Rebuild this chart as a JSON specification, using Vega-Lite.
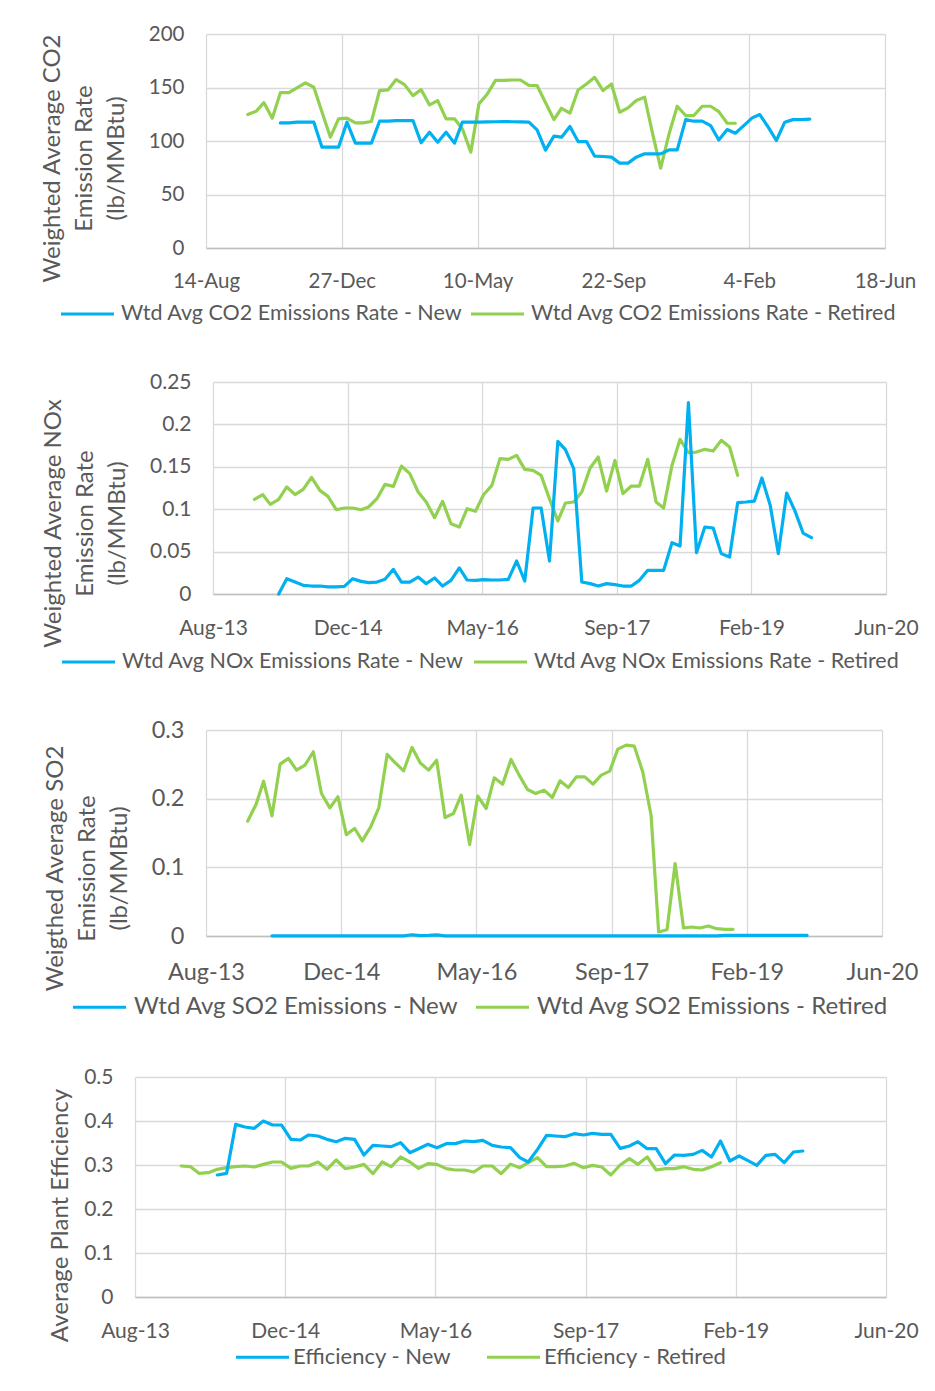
{
  "$schema": "https://vega.github.io/schema/vega-lite/v6.json",
  "background": "white",
  "padding": {"left": 8, "top": 24, "right": 0, "bottom": 0},
  "config": {
    "view": {"stroke": null},
    "font": "Lato",
    "axis": {"labelFont": "Lato", "titleFont": "Lato", "labelColor": "#595959", "titleColor": "#595959", "titleFontWeight": "normal", "titleFontSize": 24, "gridColor": "#d9d9d9", "gridWidth": 1.3, "domainColor": "#bfbfbf", "domainWidth": 1.3, "ticks": false, "tickSize": 0, "labelFlush": false, "labelOverlap": false, "grid": true},
    "legend": {"labelFont": "Lato", "labelColor": "#595959", "labelFontSize": 22, "symbolType": "stroke", "symbolSize": 2809, "symbolStrokeWidth": 3.2, "labelOffset": 5, "padding": 0, "labelLimit": 700, "symbolOffset": 0}
  },
  "datasets": {
    "co2": [
      {"d":"2014-01-15","Retired":124.7},{"d":"2014-02-15","Retired":127.8},{"d":"2014-03-15","Retired":135.9},{"d":"2014-04-15","Retired":121.3},
      {"d":"2014-05-15","New":116.9,"Retired":145.2},{"d":"2014-06-15","New":116.9,"Retired":145.2},{"d":"2014-07-15","New":117.6,"Retired":149.6},{"d":"2014-08-15","New":117.6,"Retired":154.3},
      {"d":"2014-09-15","New":117.6,"Retired":150.2},{"d":"2014-10-15","New":94.2,"Retired":127},{"d":"2014-11-15","New":94.2,"Retired":103.6},{"d":"2014-12-15","New":94.2,"Retired":120.7},
      {"d":"2015-01-15","New":117.6,"Retired":121.3},{"d":"2015-02-15","New":98,"Retired":116.9},{"d":"2015-03-15","New":98,"Retired":117},{"d":"2015-04-15","New":98,"Retired":118.2},
      {"d":"2015-05-15","New":118.5,"Retired":147.1},{"d":"2015-06-15","New":118.5,"Retired":147.7},{"d":"2015-07-15","New":119.1,"Retired":157.4},{"d":"2015-08-15","New":119.1,"Retired":152.7},
      {"d":"2015-09-15","New":119.1,"Retired":142.4},{"d":"2015-10-15","New":98.3,"Retired":148},{"d":"2015-11-15","New":108.2,"Retired":133.7},{"d":"2015-12-15","New":98.9,"Retired":137.8},
      {"d":"2016-01-15","New":108.2,"Retired":120.7},{"d":"2016-02-15","New":98,"Retired":120.7},{"d":"2016-03-15","New":117.6,"Retired":111.3},{"d":"2016-04-15","New":117.6,"Retired":89.6},
      {"d":"2016-05-15","New":117.6,"Retired":134.7},{"d":"2016-06-15","New":117.8,"Retired":144},{"d":"2016-07-15","New":118,"Retired":156.7},{"d":"2016-08-15","New":118.2,"Retired":156.7},
      {"d":"2016-09-15","New":118,"Retired":157},{"d":"2016-10-15","New":117.8,"Retired":157},{"d":"2016-11-15","New":117.6,"Retired":152},{"d":"2016-12-15","New":110.4,"Retired":151.8},
      {"d":"2017-01-15","New":91.5,"Retired":136},{"d":"2017-02-15","New":104.5,"Retired":120},{"d":"2017-03-15","New":103.6,"Retired":130.6},{"d":"2017-04-15","New":113.5,"Retired":126},
      {"d":"2017-05-15","New":99.5,"Retired":147.7},{"d":"2017-06-15","New":99.5,"Retired":153.3},{"d":"2017-07-15","New":85.8,"Retired":159.5},{"d":"2017-08-15","New":85.5,"Retired":147.1},
      {"d":"2017-09-15","New":84.9,"Retired":153.3},{"d":"2017-10-15","New":79.3,"Retired":126.9},{"d":"2017-11-15","New":79.3,"Retired":130.9},{"d":"2017-12-15","New":84.9,"Retired":137.8},
      {"d":"2018-01-15","New":88,"Retired":140.9},{"d":"2018-02-15","New":88,"Retired":105},{"d":"2018-03-15","New":88,"Retired":74.6},{"d":"2018-04-15","New":91.7,"Retired":106.7},
      {"d":"2018-05-15","New":91.7,"Retired":132.5},{"d":"2018-06-15","New":120,"Retired":123.8},{"d":"2018-07-15","New":118.5,"Retired":123.8},{"d":"2018-08-15","New":118.5,"Retired":132.5},
      {"d":"2018-09-15","New":114.4,"Retired":132.5},{"d":"2018-10-15","New":101,"Retired":127.5},{"d":"2018-11-15","New":110.7,"Retired":116.6},{"d":"2018-12-15","New":107.3,"Retired":116.6},
      {"d":"2019-01-15","New":114.4},{"d":"2019-02-15","New":121.6},{"d":"2019-03-15","New":124.7},{"d":"2019-04-15","New":112.9},{"d":"2019-05-15","New":100.5},
      {"d":"2019-06-15","New":117.6},{"d":"2019-07-15","New":120},{"d":"2019-08-15","New":120},{"d":"2019-09-15","New":120.4}
    ],
    "nox": [
      {"d":"2014-01-15","Retired":0.1116},{"d":"2014-02-15","Retired":0.1171},{"d":"2014-03-15","Retired":0.1057},{"d":"2014-04-15","New":0,"Retired":0.1116},
      {"d":"2014-05-15","New":0.0181,"Retired":0.1262},{"d":"2014-06-15","New":0.0141,"Retired":0.1171},{"d":"2014-07-15","New":0.0102,"Retired":0.1234},{"d":"2014-08-15","New":0.0094,"Retired":0.1376},
      {"d":"2014-09-15","New":0.0094,"Retired":0.1222},{"d":"2014-10-15","New":0.0083,"Retired":0.1151},{"d":"2014-11-15","New":0.0083,"Retired":0.0994},{"d":"2014-12-15","New":0.009,"Retired":0.1014},
      {"d":"2015-01-15","New":0.0181,"Retired":0.1014},{"d":"2015-02-15","New":0.0149,"Retired":0.0994},{"d":"2015-03-15","New":0.0134,"Retired":0.1026},{"d":"2015-04-15","New":0.0141,"Retired":0.1124},
      {"d":"2015-05-15","New":0.0173,"Retired":0.1293},{"d":"2015-06-15","New":0.0291,"Retired":0.1269},{"d":"2015-07-15","New":0.0141,"Retired":0.1509},{"d":"2015-08-15","New":0.0141,"Retired":0.1419},
      {"d":"2015-09-15","New":0.02,"Retired":0.1203},{"d":"2015-10-15","New":0.0122,"Retired":0.1085},{"d":"2015-11-15","New":0.0189,"Retired":0.09},{"d":"2015-12-15","New":0.0094,"Retired":0.1093},
      {"d":"2016-01-15","New":0.0161,"Retired":0.0829},{"d":"2016-02-15","New":0.0307,"Retired":0.079},{"d":"2016-03-15","New":0.0165,"Retired":0.1006},{"d":"2016-04-15","New":0.0161,"Retired":0.0975},
      {"d":"2016-05-15","New":0.0169,"Retired":0.1171},{"d":"2016-06-15","New":0.0165,"Retired":0.1281},{"d":"2016-07-15","New":0.0165,"Retired":0.1596},{"d":"2016-08-15","New":0.0173,"Retired":0.1588},
      {"d":"2016-09-15","New":0.0389,"Retired":0.1635},{"d":"2016-10-15","New":0.0153,"Retired":0.147},{"d":"2016-11-15","New":0.1014,"Retired":0.1458},{"d":"2016-12-15","New":0.1014,"Retired":0.1399},
      {"d":"2017-01-15","New":0.0389,"Retired":0.112},{"d":"2017-02-15","New":0.18,"Retired":0.0861},{"d":"2017-03-15","New":0.1702,"Retired":0.1073},{"d":"2017-04-15","New":0.1478,"Retired":0.1085},
      {"d":"2017-05-15","New":0.0141,"Retired":0.1203},{"d":"2017-06-15","New":0.0122,"Retired":0.1486},{"d":"2017-07-15","New":0.0094,"Retired":0.1615},{"d":"2017-08-15","New":0.0122,"Retired":0.1214},
      {"d":"2017-09-15","New":0.011,"Retired":0.1576},{"d":"2017-10-15","New":0.0094,"Retired":0.1183},{"d":"2017-11-15","New":0.0094,"Retired":0.1273},{"d":"2017-12-15","New":0.0161,"Retired":0.1273},
      {"d":"2018-01-15","New":0.0279,"Retired":0.1588},{"d":"2018-02-15","New":0.0279,"Retired":0.1085},{"d":"2018-03-15","New":0.0279,"Retired":0.1014},{"d":"2018-04-15","New":0.0605,"Retired":0.1517},
      {"d":"2018-05-15","New":0.0566,"Retired":0.1824},{"d":"2018-06-15","New":0.2256,"Retired":0.1666},{"d":"2018-07-15","New":0.0487,"Retired":0.1674},{"d":"2018-08-15","New":0.079,"Retired":0.1706},
      {"d":"2018-09-15","New":0.0778,"Retired":0.1686},{"d":"2018-10-15","New":0.0476,"Retired":0.1812},{"d":"2018-11-15","New":0.0436,"Retired":0.1733},{"d":"2018-12-15","New":0.1077,"Retired":0.1399},
      {"d":"2019-01-15","New":0.1085},{"d":"2019-02-15","New":0.1096},{"d":"2019-03-15","New":0.1368},{"d":"2019-04-15","New":0.1045},{"d":"2019-05-15","New":0.0476},
      {"d":"2019-06-15","New":0.1191},{"d":"2019-07-15","New":0.0986},{"d":"2019-08-15","New":0.0719},{"d":"2019-09-15","New":0.0664}
    ],
    "so2": [
      {"d":"2014-01-15","Retired":0.1672},{"d":"2014-02-15","Retired":0.1915},{"d":"2014-03-15","Retired":0.2255},{"d":"2014-04-15","New":0.0002,"Retired":0.175},
      {"d":"2014-05-15","New":0.0002,"Retired":0.2503},{"d":"2014-06-15","New":0.0002,"Retired":0.2586},{"d":"2014-07-15","New":0.0002,"Retired":0.2415},{"d":"2014-08-15","New":0.0002,"Retired":0.2488},
      {"d":"2014-09-15","New":0.0002,"Retired":0.2683},{"d":"2014-10-15","New":0.0002,"Retired":0.2075},{"d":"2014-11-15","New":0.0002,"Retired":0.1866},{"d":"2014-12-15","New":0.0002,"Retired":0.2027},
      {"d":"2015-01-15","New":0.0002,"Retired":0.1477},{"d":"2015-02-15","New":0.0002,"Retired":0.1565},{"d":"2015-03-15","New":0.0002,"Retired":0.1385},{"d":"2015-04-15","New":0.0002,"Retired":0.1589},
      {"d":"2015-05-15","New":0.0002,"Retired":0.1866},{"d":"2015-06-15","New":0.0002,"Retired":0.2644},{"d":"2015-07-15","New":0.0002,"Retired":0.2522},{"d":"2015-08-15","New":0.0002,"Retired":0.2406},
      {"d":"2015-09-15","New":0.0018,"Retired":0.2746},{"d":"2015-10-15","New":0.0005,"Retired":0.2522},{"d":"2015-11-15","New":0.0008,"Retired":0.2415},{"d":"2015-12-15","New":0.0016,"Retired":0.2561},
      {"d":"2016-01-15","New":0.0002,"Retired":0.1725},{"d":"2016-02-15","New":0.0002,"Retired":0.1784},{"d":"2016-03-15","New":0.0002,"Retired":0.2051},{"d":"2016-04-15","New":0.0002,"Retired":0.1332},
      {"d":"2016-05-15","New":0.0002,"Retired":0.2036},{"d":"2016-06-15","New":0.0002,"Retired":0.1857},{"d":"2016-07-15","New":0.0002,"Retired":0.2304},{"d":"2016-08-15","New":0.0002,"Retired":0.2211},
      {"d":"2016-09-15","New":0.0002,"Retired":0.2571},{"d":"2016-10-15","New":0.0002,"Retired":0.2343},{"d":"2016-11-15","New":0.0002,"Retired":0.2134},{"d":"2016-12-15","New":0.0002,"Retired":0.2075},
      {"d":"2017-01-15","New":0.0002,"Retired":0.2124},{"d":"2017-02-15","New":0.0002,"Retired":0.2017},{"d":"2017-03-15","New":0.0002,"Retired":0.226},{"d":"2017-04-15","New":0.0002,"Retired":0.2163},
      {"d":"2017-05-15","New":0.0002,"Retired":0.2318},{"d":"2017-06-15","New":0.0002,"Retired":0.2318},{"d":"2017-07-15","New":0.0002,"Retired":0.2211},{"d":"2017-08-15","New":0.0002,"Retired":0.2343},
      {"d":"2017-09-15","New":0.0002,"Retired":0.2401},{"d":"2017-10-15","New":0.0002,"Retired":0.2722},{"d":"2017-11-15","New":0.0002,"Retired":0.278},{"d":"2017-12-15","New":0.0002,"Retired":0.2765},
      {"d":"2018-01-15","New":0.0002,"Retired":0.2391},{"d":"2018-02-15","New":0.0002,"Retired":0.1759},{"d":"2018-03-15","New":0.0002,"Retired":0.0058},{"d":"2018-04-15","New":0.0002,"Retired":0.0092},
      {"d":"2018-05-15","New":0.0002,"Retired":0.1055},{"d":"2018-06-15","New":0.0002,"Retired":0.0117},{"d":"2018-07-15","New":0.0002,"Retired":0.0131},{"d":"2018-08-15","New":0.0002,"Retired":0.0117},
      {"d":"2018-09-15","New":0.0002,"Retired":0.0146},{"d":"2018-10-15","New":0.0002,"Retired":0.0107},{"d":"2018-11-15","New":0.0008,"Retired":0.0097},{"d":"2018-12-15","New":0.0008,"Retired":0.0097},
      {"d":"2019-01-15","New":0.0008},{"d":"2019-02-15","New":0.0008},{"d":"2019-03-15","New":0.0008},{"d":"2019-04-15","New":0.0008},{"d":"2019-05-15","New":0.0008},
      {"d":"2019-06-15","New":0.0008},{"d":"2019-07-15","New":0.0008},{"d":"2019-08-15","New":0.0008},{"d":"2019-09-15","New":0.0008}
    ],
    "eff": [
      {"d":"2014-01-15","Retired":0.2977},{"d":"2014-02-15","Retired":0.2962},{"d":"2014-03-15","Retired":0.2811},{"d":"2014-04-15","Retired":0.2826},
      {"d":"2014-05-15","New":0.2773,"Retired":0.2902},{"d":"2014-06-15","New":0.2811,"Retired":0.2939},{"d":"2014-07-15","New":0.3924,"Retired":0.2962},{"d":"2014-08-15","New":0.3864,"Retired":0.2977},
      {"d":"2014-09-15","New":0.3833,"Retired":0.2955},{"d":"2014-10-15","New":0.4,"Retired":0.3015},{"d":"2014-11-15","New":0.3909,"Retired":0.3068},{"d":"2014-12-15","New":0.3909,"Retired":0.3068},
      {"d":"2015-01-15","New":0.3583,"Retired":0.2924},{"d":"2015-02-15","New":0.3568,"Retired":0.2977},{"d":"2015-03-15","New":0.3682,"Retired":0.2977},{"d":"2015-04-15","New":0.3659,"Retired":0.3068},
      {"d":"2015-05-15","New":0.3583,"Retired":0.2902},{"d":"2015-06-15","New":0.353,"Retired":0.3114},{"d":"2015-07-15","New":0.3606,"Retired":0.2917},{"d":"2015-08-15","New":0.3583,"Retired":0.2955},
      {"d":"2015-09-15","New":0.3227,"Retired":0.3015},{"d":"2015-10-15","New":0.3447,"Retired":0.2803},{"d":"2015-11-15","New":0.3432,"Retired":0.3068},{"d":"2015-12-15","New":0.3417,"Retired":0.2962},
      {"d":"2016-01-15","New":0.3508,"Retired":0.3182},{"d":"2016-02-15","New":0.328,"Retired":0.3068},{"d":"2016-03-15","New":0.3371,"Retired":0.2924},{"d":"2016-04-15","New":0.347,"Retired":0.303},
      {"d":"2016-05-15","New":0.3394,"Retired":0.3015},{"d":"2016-06-15","New":0.3485,"Retired":0.2917},{"d":"2016-07-15","New":0.3485,"Retired":0.2886},{"d":"2016-08-15","New":0.3545,"Retired":0.2886},
      {"d":"2016-09-15","New":0.353,"Retired":0.2841},{"d":"2016-10-15","New":0.3561,"Retired":0.2977},{"d":"2016-11-15","New":0.3447,"Retired":0.2977},{"d":"2016-12-15","New":0.3409,"Retired":0.2803},
      {"d":"2017-01-15","New":0.3394,"Retired":0.302},{"d":"2017-02-15","New":0.3167,"Retired":0.2939},{"d":"2017-03-15","New":0.3068,"Retired":0.3053},{"d":"2017-04-15","New":0.3356,"Retired":0.3167},
      {"d":"2017-05-15","New":0.3674,"Retired":0.2962},{"d":"2017-06-15","New":0.3659,"Retired":0.2962},{"d":"2017-07-15","New":0.3644,"Retired":0.2977},{"d":"2017-08-15","New":0.3712,"Retired":0.3038},
      {"d":"2017-09-15","New":0.3682,"Retired":0.2939},{"d":"2017-10-15","New":0.372,"Retired":0.2992},{"d":"2017-11-15","New":0.3697,"Retired":0.2955},{"d":"2017-12-15","New":0.3697,"Retired":0.2773},
      {"d":"2018-01-15","New":0.3379,"Retired":0.3},{"d":"2018-02-15","New":0.3432,"Retired":0.3144},{"d":"2018-03-15","New":0.353,"Retired":0.3015},{"d":"2018-04-15","New":0.3371,"Retired":0.3182},
      {"d":"2018-05-15","New":0.3371,"Retired":0.2886},{"d":"2018-06-15","New":0.303,"Retired":0.2917},{"d":"2018-07-15","New":0.3227,"Retired":0.2917},{"d":"2018-08-15","New":0.322,"Retired":0.2962},
      {"d":"2018-09-15","New":0.3242,"Retired":0.2902},{"d":"2018-10-15","New":0.3333,"Retired":0.2886},{"d":"2018-11-15","New":0.3182,"Retired":0.2962},{"d":"2018-12-15","New":0.3545,"Retired":0.3053},
      {"d":"2019-01-15","New":0.3091},{"d":"2019-02-15","New":0.3205},{"d":"2019-03-15","New":0.3106},{"d":"2019-04-15","New":0.2992},{"d":"2019-05-15","New":0.322},
      {"d":"2019-06-15","New":0.3242},{"d":"2019-07-15","New":0.3053},{"d":"2019-08-15","New":0.3295},{"d":"2019-09-15","New":0.3318}
    ]
  },
  "resolve": {"scale": {"color": "independent"}, "legend": {"color": "independent"}},
  "columns": 1,
  "spacing": 0,
  "concat": [
    {
      "spacing": 0,
      "resolve": {"scale": {"color": "independent"}, "legend": {"color": "independent"}},
      "hconcat": [
        {"width": 32, "height": 337, "data": {"values": []}, "mark": "point", "encoding": {}},
        {
          "width": 679, "height": 214,
          "data": {"name": "co2"},
          "transform": [{"fold": ["New", "Retired"], "as": ["s", "v"]}, {"filter": "datum.v != null"}],
          "mark": {"type": "line", "strokeWidth": 3.2, "strokeJoin": "round", "strokeCap": "round"},
          "encoding": {
            "x": {"field": "d", "type": "temporal",
              "scale": {"type": "utc", "nice": false, "domain": [{"year": 2013, "month": 8, "date": 14, "utc": true}, {"year": 2020, "month": 6, "date": 18, "utc": true}]},
              "axis": {"values": [{"year": 2013, "month": 8, "date": 14, "utc": true}, {"year": 2014, "month": 12, "date": 27, "utc": true}, {"year": 2016, "month": 5, "date": 10, "utc": true}, {"year": 2017, "month": 9, "date": 22, "utc": true}, {"year": 2019, "month": 2, "date": 4, "utc": true}, {"year": 2020, "month": 6, "date": 18, "utc": true}],
                "format": "%-d-%b", "labelFontSize": 20.5, "labelPadding": 23, "title": null}},
            "y": {"field": "v", "type": "quantitative", "scale": {"domain": [0, 200], "nice": false},
              "axis": {"values": [0, 50, 100, 150, 200], "labelFontSize": 20.5, "labelPadding": 22, "domain": false,
                "title": ["Weighted Average CO2", "Emission Rate", "(lb/MMBtu)"], "titleY": 124, "titlePadding": 20, "titleLineHeight": 32}},
            "color": {"field": "s", "type": "nominal", "scale": {"domain": ["New", "Retired"], "range": ["#00b0f0", "#92d050"]},
              "legend": {"title": null, "orient": "none", "legendX": -147, "legendY": 251.5, "direction": "horizontal", "columns": 2, "columnPadding": 1, "labelFontSize": 21.5,
                "labelExpr": "'Wtd Avg CO2 Emissions Rate - ' + datum.label"}}
          }
        }
      ]
    },
    {
      "spacing": 0,
      "resolve": {"scale": {"color": "independent"}, "legend": {"color": "independent"}},
      "hconcat": [
        {"width": 33, "height": 336, "data": {"values": []}, "mark": "point", "encoding": {}},
        {
          "width": 673, "height": 212,
          "data": {"name": "nox"},
          "transform": [{"fold": ["New", "Retired"], "as": ["s", "v"]}, {"filter": "datum.v != null"}],
          "mark": {"type": "line", "strokeWidth": 3.2, "strokeJoin": "round", "strokeCap": "round"},
          "encoding": {
            "x": {"field": "d", "type": "temporal",
              "scale": {"type": "utc", "nice": false, "domain": [{"year": 2013, "month": 8, "date": 14, "utc": true}, {"year": 2020, "month": 6, "date": 18, "utc": true}]},
              "axis": {"values": [{"year": 2013, "month": 8, "date": 14, "utc": true}, {"year": 2014, "month": 12, "date": 27, "utc": true}, {"year": 2016, "month": 5, "date": 10, "utc": true}, {"year": 2017, "month": 9, "date": 22, "utc": true}, {"year": 2019, "month": 2, "date": 4, "utc": true}, {"year": 2020, "month": 6, "date": 18, "utc": true}],
                "format": "%b-%y", "labelFontSize": 21, "labelPadding": 23, "title": null}},
            "y": {"field": "v", "type": "quantitative", "scale": {"domain": [0, 0.25], "nice": false},
              "axis": {"values": [0, 0.05, 0.1, 0.15, 0.2, 0.25], "format": "~g", "labelFontSize": 21, "labelPadding": 22, "domain": false,
                "title": ["Weighted Average NOx", "Emission Rate", "(lb/MMBtu)"], "titleY": 141, "titlePadding": 20, "titleLineHeight": 32}},
            "color": {"field": "s", "type": "nominal", "scale": {"domain": ["New", "Retired"], "range": ["#00b0f0", "#92d050"]},
              "legend": {"title": null, "orient": "none", "legendX": -153, "legendY": 251.5, "direction": "horizontal", "columns": 2, "columnPadding": 3, "labelFontSize": 21.5,
                "labelExpr": "'Wtd Avg NOx Emissions Rate - ' + datum.label"}}
          }
        }
      ]
    },
    {
      "spacing": 0,
      "resolve": {"scale": {"color": "independent"}, "legend": {"color": "independent"}},
      "hconcat": [
        {"width": 35, "height": 336, "data": {"values": []}, "mark": "point", "encoding": {}},
        {
          "width": 676, "height": 206,
          "data": {"name": "so2"},
          "transform": [{"fold": ["New", "Retired"], "as": ["s", "v"]}, {"filter": "datum.v != null"}],
          "mark": {"type": "line", "strokeWidth": 3.2, "strokeJoin": "round", "strokeCap": "round"},
          "encoding": {
            "x": {"field": "d", "type": "temporal",
              "scale": {"type": "utc", "nice": false, "domain": [{"year": 2013, "month": 8, "date": 14, "utc": true}, {"year": 2020, "month": 6, "date": 18, "utc": true}]},
              "axis": {"values": [{"year": 2013, "month": 8, "date": 14, "utc": true}, {"year": 2014, "month": 12, "date": 27, "utc": true}, {"year": 2016, "month": 5, "date": 10, "utc": true}, {"year": 2017, "month": 9, "date": 22, "utc": true}, {"year": 2019, "month": 2, "date": 4, "utc": true}, {"year": 2020, "month": 6, "date": 18, "utc": true}],
                "format": "%b-%y", "labelFontSize": 23.5, "labelPadding": 24, "title": null}},
            "y": {"field": "v", "type": "quantitative", "scale": {"domain": [0, 0.3], "nice": false},
              "axis": {"values": [0, 0.1, 0.2, 0.3], "format": "~g", "labelFontSize": 23.5, "labelPadding": 22, "domain": false,
                "title": ["Weigthed Average SO2", "Emission Rate", "(lb/MMBtu)"], "titleY": 138, "titlePadding": 20, "titleLineHeight": 32}},
            "color": {"field": "s", "type": "nominal", "scale": {"domain": ["New", "Retired"], "range": ["#00b0f0", "#92d050"]},
              "legend": {"title": null, "orient": "none", "legendX": -135, "legendY": 248.5, "direction": "horizontal", "columns": 2, "columnPadding": 10, "labelFontSize": 24, "labelOffset": 6,
                "labelExpr": "'Wtd Avg SO2 Emissions - ' + datum.label"}}
          }
        }
      ]
    },
    {
      "spacing": 0,
      "resolve": {"scale": {"color": "independent"}, "legend": {"color": "independent"}},
      "hconcat": [
        {"width": 40, "height": 305, "data": {"values": []}, "mark": "point", "encoding": {}},
        {
          "width": 751, "height": 220,
          "data": {"name": "eff"},
          "transform": [{"fold": ["New", "Retired"], "as": ["s", "v"]}, {"filter": "datum.v != null"}],
          "mark": {"type": "line", "strokeWidth": 3.2, "strokeJoin": "round", "strokeCap": "round"},
          "encoding": {
            "x": {"field": "d", "type": "temporal",
              "scale": {"type": "utc", "nice": false, "domain": [{"year": 2013, "month": 8, "date": 14, "utc": true}, {"year": 2020, "month": 6, "date": 18, "utc": true}]},
              "axis": {"values": [{"year": 2013, "month": 8, "date": 14, "utc": true}, {"year": 2014, "month": 12, "date": 27, "utc": true}, {"year": 2016, "month": 5, "date": 10, "utc": true}, {"year": 2017, "month": 9, "date": 22, "utc": true}, {"year": 2019, "month": 2, "date": 4, "utc": true}, {"year": 2020, "month": 6, "date": 18, "utc": true}],
                "format": "%b-%y", "labelFontSize": 21, "labelPadding": 23, "title": null}},
            "y": {"field": "v", "type": "quantitative", "scale": {"domain": [0, 0.5], "nice": false},
              "axis": {"values": [0, 0.1, 0.2, 0.3, 0.4, 0.5], "format": "~g", "labelFontSize": 21, "labelPadding": 22, "domain": false,
                "title": "Average Plant Efficiency", "titleY": 138, "titlePadding": 11}},
            "color": {"field": "s", "type": "nominal", "scale": {"domain": ["New", "Retired"], "range": ["#00b0f0", "#92d050"]},
              "legend": {"title": null, "orient": "none", "legendX": 99, "legendY": 251.5, "direction": "horizontal", "columns": 2, "columnPadding": 29, "labelOffset": 2,
                "labelExpr": "'Efficiency - ' + datum.label"}}
          }
        }
      ]
    }
  ]
}
